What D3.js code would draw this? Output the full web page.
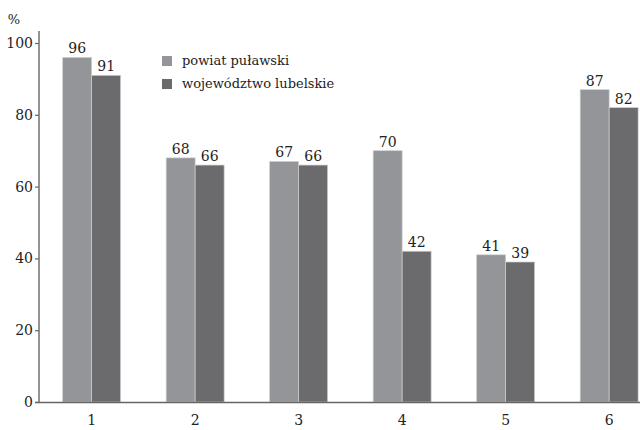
<!DOCTYPE html>
<html><head><meta charset="utf-8">
<script src="https://cdn.jsdelivr.net/npm/d3@7/dist/d3.min.js"></script>
<style>body{margin:0;background:#fff}svg{display:block}</style>
</head><body><svg id="c" width="640" height="430"></svg>
<script>
const categories = ["1","2","3","4","5","6"];
const seriesNames = ["powiat puławski","województwo lubelskie"];
const powiat = [96,68,67,70,41,87];
const wojewodztwo = [91,66,66,42,39,82];
const yTicks = [0,20,40,60,80,100];
const colors = ["#949598","#6b6b6e"];
const FONT = '"DejaVu Serif", serif';

const svg = d3.select("#c");
const y = d3.scaleLinear().domain([0,100]).range([402,43]);
const x = d3.scaleBand().domain(categories).range([40,660.8]).paddingInner(0.44).paddingOuter(0.219);
const xs = d3.scaleBand().domain([0,1]).range([0,x.bandwidth()]);
const series = [powiat, wojewodztwo];

function txt(sel){ return sel.style("font-family",FONT).attr("fill","#222"); }

// bars
series.forEach((vals,si)=>{
  svg.append("g").selectAll("rect").data(vals).join("rect")
    .attr("x",(d,i)=>x(categories[i])+xs(si))
    .attr("y",d=>y(d))
    .attr("width",xs.bandwidth())
    .attr("height",d=>y(0)-y(d))
    .attr("fill",colors[si])
    .attr("stroke","#cfcfd1").attr("stroke-width",0.7);
  txt(svg.append("g").selectAll("text").data(vals).join("text")
    .attr("x",(d,i)=>x(categories[i])+xs(si)+xs.bandwidth()/2)
    .attr("y",d=>y(d)-4)
    .attr("text-anchor","middle").attr("font-size",14)
    .text(d=>d));
});

// y axis
const yAxis = svg.append("g").attr("transform","translate(39,0)")
  .call(d3.axisLeft(y).tickValues(yTicks).tickSize(4).tickPadding(2));
yAxis.select(".domain").remove();
yAxis.selectAll(".tick line").attr("stroke","#666").attr("stroke-width",1.2);
txt(yAxis.selectAll(".tick text").attr("font-size",14));
svg.append("line").attr("x1",39).attr("x2",39).attr("y1",31).attr("y2",402.5).attr("stroke","#666").attr("stroke-width",1.4);
svg.append("line").attr("x1",35).attr("x2",640).attr("y1",402.5).attr("y2",402.5).attr("stroke","#666").attr("stroke-width",1.4);
txt(svg.append("text").attr("x",14).attr("y",24).attr("text-anchor","middle").attr("font-size",13).text("%"));

// x labels
const xAxis = svg.append("g").attr("transform","translate(0,402)")
  .call(d3.axisBottom(x).tickSize(0).tickPadding(13));
xAxis.select(".domain").remove();
txt(xAxis.selectAll(".tick text").attr("font-size",14));

// legend
const leg = svg.append("g");
seriesNames.forEach((n,i)=>{
  leg.append("rect").attr("x",162).attr("y",56+i*23).attr("width",10).attr("height",10).attr("fill",colors[i]);
  txt(leg.append("text").attr("x",182).attr("y",65+i*23).attr("font-size",13).text(n));
});
</script></body></html>
